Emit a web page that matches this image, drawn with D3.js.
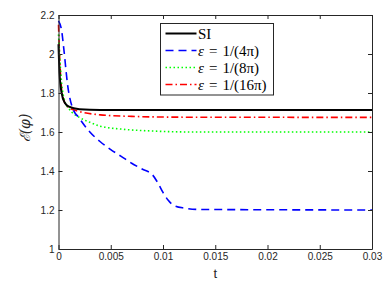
<!DOCTYPE html>
<html>
<head>
<meta charset="utf-8">
<script src="https://cdn.jsdelivr.net/npm/d3@7"></script>
<style>
  body { margin: 0; background: #fff; }
  svg { display: block; }
</style>
</head>
<body>
<div id="chart"></div>
<script>
// values: [t, E]
const siCurve = [[0, 2.05], [0.0001, 1.9], [0.0003, 1.8], [0.0006, 1.75], [0.001, 1.73], [0.002, 1.717], [0.004, 1.713], [0.03, 1.713]];
const eps4Curve = [[0, 2.17], [0.0003, 2.12], [0.0005, 2.03], [0.0009, 1.83], [0.0013, 1.73], [0.002, 1.67], [0.003, 1.6], [0.004, 1.55], [0.005, 1.51], [0.006, 1.475], [0.007, 1.44], [0.008, 1.41], [0.009, 1.38], [0.0095, 1.34], [0.01, 1.29], [0.0105, 1.25], [0.011, 1.225], [0.012, 1.21], [0.0135, 1.203], [0.03, 1.2]];
const eps8Curve = [[0, 2.1], [0.0001, 2.0], [0.0003, 1.85], [0.0006, 1.76], [0.001, 1.72], [0.002, 1.675], [0.003, 1.65], [0.004, 1.63], [0.006, 1.615], [0.009, 1.605], [0.013, 1.6], [0.03, 1.6]];
const eps16Curve = [[0, 2.15], [0.0001, 2.0], [0.0003, 1.82], [0.0006, 1.75], [0.001, 1.725], [0.002, 1.705], [0.004, 1.688], [0.007, 1.68], [0.012, 1.676], [0.03, 1.675]];

const xTicks = [0, 0.005, 0.01, 0.015, 0.02, 0.025, 0.03];
const yTicks = [1, 1.2, 1.4, 1.6, 1.8, 2, 2.2];
const legendLabels = ['SI', '1/(4π)', '1/(8π)', '1/(16π)'];

const width = 392, height = 294;
const margin = { top: 15, right: 20, bottom: 45, left: 58.5 };

const svg = d3.select('#chart').append('svg')
	.attr('width', width)
	.attr('height', height);

const x = d3.scaleLinear().domain([0, 0.03]).range([margin.left, width - margin.right]);
const y = d3.scaleLinear().domain([1, 2.2]).range([height - margin.bottom, margin.top]);

const series = [
	{ data: siCurve, color: '#000', width: 2, dash: null },
	{ data: eps4Curve, color: '#0000ff', width: 1.6, dash: '8,5' },
	{ data: eps8Curve, color: '#00ff00', width: 1.6, dash: '1.5,2.5' },
	{ data: eps16Curve, color: '#ff0000', width: 1.6, dash: '7,3,1.5,3' },
];

const line = d3.line().x((d) => x(d[0])).y((d) => y(d[1])).curve(d3.curveMonotoneX);

const plot = svg.append('g');
series.slice().reverse().forEach((s) => {
	plot.append('path')
		.datum(s.data)
		.attr('fill', 'none')
		.attr('stroke', s.color)
		.attr('stroke-width', s.width)
		.attr('stroke-dasharray', s.dash)
		.attr('d', line);
});

// axes (matlab box style, inward ticks)
const axisColor = '#262626';
const tickFont = '10px "Liberation Sans", Arial, sans-serif';

const axBottom = svg.append('g')
	.attr('transform', `translate(0,${y(1)})`)
	.call(d3.axisBottom(x).tickValues(xTicks).tickSizeInner(-4).tickSizeOuter(0).tickPadding(4).tickFormat((d) => String(+d.toFixed(3))));
const axTop = svg.append('g')
	.attr('transform', `translate(0,${y(2.2)})`)
	.call(d3.axisTop(x).tickValues(xTicks).tickSizeInner(-4).tickSizeOuter(0).tickFormat(''));
const axLeft = svg.append('g')
	.attr('transform', `translate(${x(0)},0)`)
	.call(d3.axisLeft(y).tickValues(yTicks).tickSizeInner(-4).tickSizeOuter(0).tickPadding(4).tickFormat((d) => String(+d.toFixed(1))));
const axRight = svg.append('g')
	.attr('transform', `translate(${x(0.03)},0)`)
	.call(d3.axisRight(y).tickValues(yTicks).tickSizeInner(-4).tickSizeOuter(0).tickFormat(''));

[axBottom, axTop, axLeft, axRight].forEach((g) => {
	g.select('.domain').attr('stroke', axisColor).attr('stroke-width', 1);
	g.selectAll('.tick line').attr('stroke', axisColor);
	g.selectAll('.tick text').style('font', tickFont).attr('fill', axisColor);
});

svg.append('text')
	.attr('x', (x(0) + x(0.03)) / 2)
	.attr('y', 278)
	.attr('text-anchor', 'middle')
	.style('font', '13px "Liberation Sans", Arial, sans-serif')
	.attr('fill', axisColor)
	.text('t');

svg.append('text')
	.attr('transform', `translate(30,128) rotate(-90)`)
	.attr('text-anchor', 'middle')
	.style('font', 'italic 14px "DejaVu Serif", serif')
	.attr('fill', axisColor)
	.text('ℰ(φ)');

// legend
const legend = svg.append('g').attr('transform', 'translate(160.5,23.5)');
legend.append('rect')
	.attr('width', 113)
	.attr('height', 71.5)
	.attr('fill', '#fff')
	.attr('stroke', axisColor)
	.attr('stroke-width', 1);

series.forEach((s, i) => {
	const ly = 10 + i * 17;
	legend.append('line')
		.attr('x1', 5).attr('x2', 36)
		.attr('y1', ly).attr('y2', ly)
		.attr('stroke', s.color)
		.attr('stroke-width', s.width)
		.attr('stroke-dasharray', s.dash);
	const t = legend.append('text')
		.attr('x', 37.5)
		.attr('y', ly + 5)
		.style('font', '15px "Liberation Serif", "Times New Roman", serif')
		.attr('fill', '#000');
	if (i === 0) {
		t.text(legendLabels[i]);
	} else {
		t.append('tspan').style('font-style', 'italic').text('ε');
		t.append('tspan').text('\u2004=\u2004' + legendLabels[i]);
	}
});
</script>
</body>
</html>
